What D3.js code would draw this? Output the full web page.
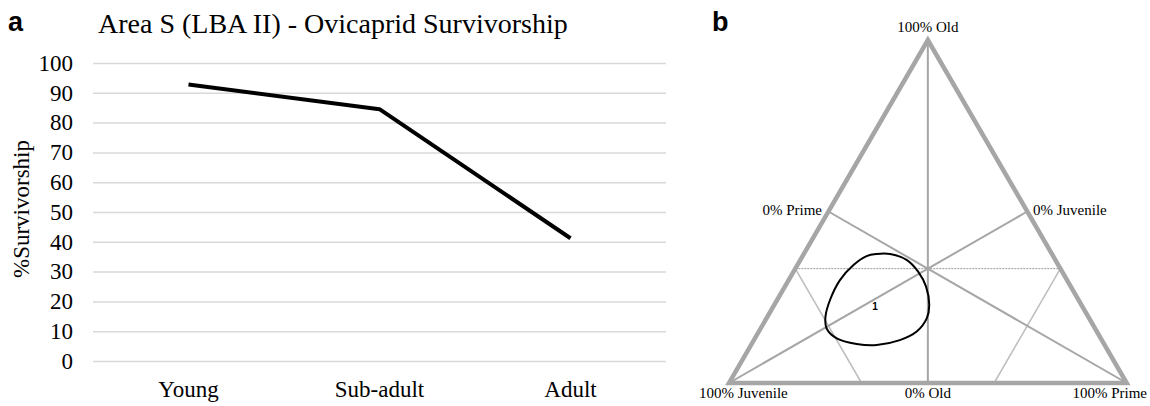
<!DOCTYPE html>
<html>
<head>
<meta charset="utf-8">
<script src="https://cdn.jsdelivr.net/npm/d3@7/dist/d3.min.js"></script>
<style>
body { margin: 0; background: #fff; }
text { font-family: "Liberation Serif", "Times New Roman", serif; fill: #000; }
</style>
</head>
<body>
<div id="body"></div>
<script>
// panel a data
var categories = ["Young", "Sub-adult", "Adult"];
var survivorship = [92.8, 84.5, 41.2];
var yTicks = [0, 10, 20, 30, 40, 50, 60, 70, 80, 90, 100];

// panel b data (ternary, percent)
var contourPrime = [18.3, 21.7, 26.7, 31.4, 35.5, 39.0, 40.3, 39.7, 36.7, 31.6, 26.4, 20.6, 16.6, 14.6, 13.3, 12.9, 14.1, 16.1];
var contourOld = [37.6, 37.6, 35.9, 32.4, 28.1, 22.7, 18.9, 15.0, 12.5, 11.1, 11.4, 13.0, 15.9, 19.3, 24.2, 30.0, 34.4, 37.0];
var peakLabel = "1";
var peakPrime = 25.6;
var peakOld = 22.2;

var width = 1150;
var height = 406;

var svg = d3.select("#body")
  .append("svg")
  .attr("width", width)
  .attr("height", height)
  .style("display", "block");

// ---------- panel a ----------
var plotLeft = 93, plotRight = 666, plotTop = 63, plotBottom = 361;

var x = d3.scaleBand()
  .domain(categories)
  .range([plotLeft, plotRight]);

var y = d3.scaleLinear()
  .domain([0, 100])
  .range([plotBottom, plotTop]);

svg.append("text")
  .attr("x", 8)
  .attr("y", 31)
  .style("font-family", "'Liberation Sans', Arial, sans-serif")
  .style("font-weight", "bold")
  .style("font-size", "27px")
  .text("a");

svg.append("text")
  .attr("x", 98)
  .attr("y", 33)
  .style("font-size", "28px")
  .text("Area S (LBA II) - Ovicaprid Survivorship");

var yAxis = svg.append("g")
  .attr("transform", "translate(" + plotLeft + ",0)")
  .call(d3.axisLeft(y)
    .tickValues(yTicks)
    .tickSize(-(plotRight - plotLeft))
    .tickPadding(20));

yAxis.select(".domain").remove();
yAxis.selectAll(".tick line")
  .attr("stroke", "#d9d9d9")
  .attr("stroke-width", 1.5);
yAxis.selectAll(".tick text")
  .style("font-family", "'Liberation Serif', 'Times New Roman', serif")
  .style("font-size", "23px")
  .attr("fill", "#000");

var xAxis = svg.append("g")
  .attr("transform", "translate(0," + plotBottom + ")")
  .call(d3.axisBottom(x)
    .tickSize(0)
    .tickPadding(20));

xAxis.select(".domain").remove();
xAxis.selectAll(".tick text")
  .style("font-family", "'Liberation Serif', 'Times New Roman', serif")
  .style("font-size", "23px")
  .attr("fill", "#000");

svg.append("text")
  .attr("transform", "translate(29,209) rotate(-90)")
  .attr("text-anchor", "middle")
  .style("font-size", "23px")
  .text("%Survivorship");

var line = d3.line()
  .x(function(d, i) { return x(categories[i]) + x.bandwidth() / 2; })
  .y(function(d) { return y(d); });

svg.append("path")
  .datum(survivorship)
  .attr("fill", "none")
  .attr("stroke", "#000")
  .attr("stroke-width", 4)
  .attr("stroke-linejoin", "round")
  .attr("d", line);

// ---------- panel b ----------
var tx = d3.scaleLinear().domain([0, 100]).range([729, 1126.7]);
var ty = d3.scaleLinear().domain([0, 100]).range([383, 40]);

function px(prime, old) { return tx(prime + old / 2); }
function py(old) { return ty(old); }

svg.append("text")
  .attr("x", 712)
  .attr("y", 31)
  .style("font-family", "'Liberation Sans', Arial, sans-serif")
  .style("font-weight", "bold")
  .style("font-size", "27px")
  .text("b");

var tern = svg.append("g");

function segment(p1, o1, p2, o2) {
  return tern.append("line")
    .attr("x1", px(p1, o1)).attr("y1", py(o1))
    .attr("x2", px(p2, o2)).attr("y2", py(o2));
}

// thirds
segment(0, 100 / 3, 200 / 3, 100 / 3)
  .attr("stroke", "#9a9a9a")
  .attr("stroke-width", 1)
  .attr("stroke-dasharray", "2,1");
segment(0, 100 / 3, 100 / 3, 0).attr("stroke", "#bdbdbd").attr("stroke-width", 1.5);
segment(200 / 3, 100 / 3, 200 / 3, 0).attr("stroke", "#bdbdbd").attr("stroke-width", 1.5);

// medians
segment(0, 100, 50, 0).attr("stroke", "#a6a6a6").attr("stroke-width", 2);
segment(0, 0, 50, 50).attr("stroke", "#a6a6a6").attr("stroke-width", 2);
segment(100, 0, 0, 50).attr("stroke", "#a6a6a6").attr("stroke-width", 2);

// outline
tern.append("path")
  .attr("fill", "none")
  .attr("stroke", "#a6a6a6")
  .attr("stroke-width", 4.5)
  .attr("stroke-linejoin", "miter")
  .attr("d", "M" + px(0, 0) + "," + py(0) + "L" + px(100, 0) + "," + py(0) + "L" + px(0, 100) + "," + py(100) + "Z");

// contour
var contour = d3.line()
  .x(function(d, i) { return px(contourPrime[i], contourOld[i]); })
  .y(function(d, i) { return py(contourOld[i]); })
  .curve(d3.curveCatmullRomClosed);

tern.append("path")
  .datum(contourPrime)
  .attr("fill", "none")
  .attr("stroke", "#000")
  .attr("stroke-width", 2)
  .attr("d", contour);

tern.append("text")
  .attr("x", px(peakPrime, peakOld))
  .attr("y", py(peakOld))
  .attr("dy", "0.35em")
  .attr("text-anchor", "middle")
  .style("font-family", "'Liberation Sans', Arial, sans-serif")
  .style("font-size", "10px")
  .style("font-weight", "bold")
  .text(peakLabel);

// vertex labels
var labelStyle = function(sel) {
  sel.style("font-size", "15px");
};

tern.append("text").attr("x", px(0, 100)).attr("y", 32).attr("text-anchor", "middle").call(labelStyle).text("100% Old");
tern.append("text").attr("x", 822).attr("y", 215).attr("text-anchor", "end").call(labelStyle).text("0% Prime");
tern.append("text").attr("x", 1033).attr("y", 215).attr("text-anchor", "start").call(labelStyle).text("0% Juvenile");
tern.append("text").attr("x", 699).attr("y", 398).attr("text-anchor", "start").call(labelStyle).text("100% Juvenile");
tern.append("text").attr("x", px(50, 0)).attr("y", 398).attr("text-anchor", "middle").call(labelStyle).text("0% Old");
tern.append("text").attr("x", 1147).attr("y", 398).attr("text-anchor", "end").call(labelStyle).text("100% Prime");
</script>
</body>
</html>
